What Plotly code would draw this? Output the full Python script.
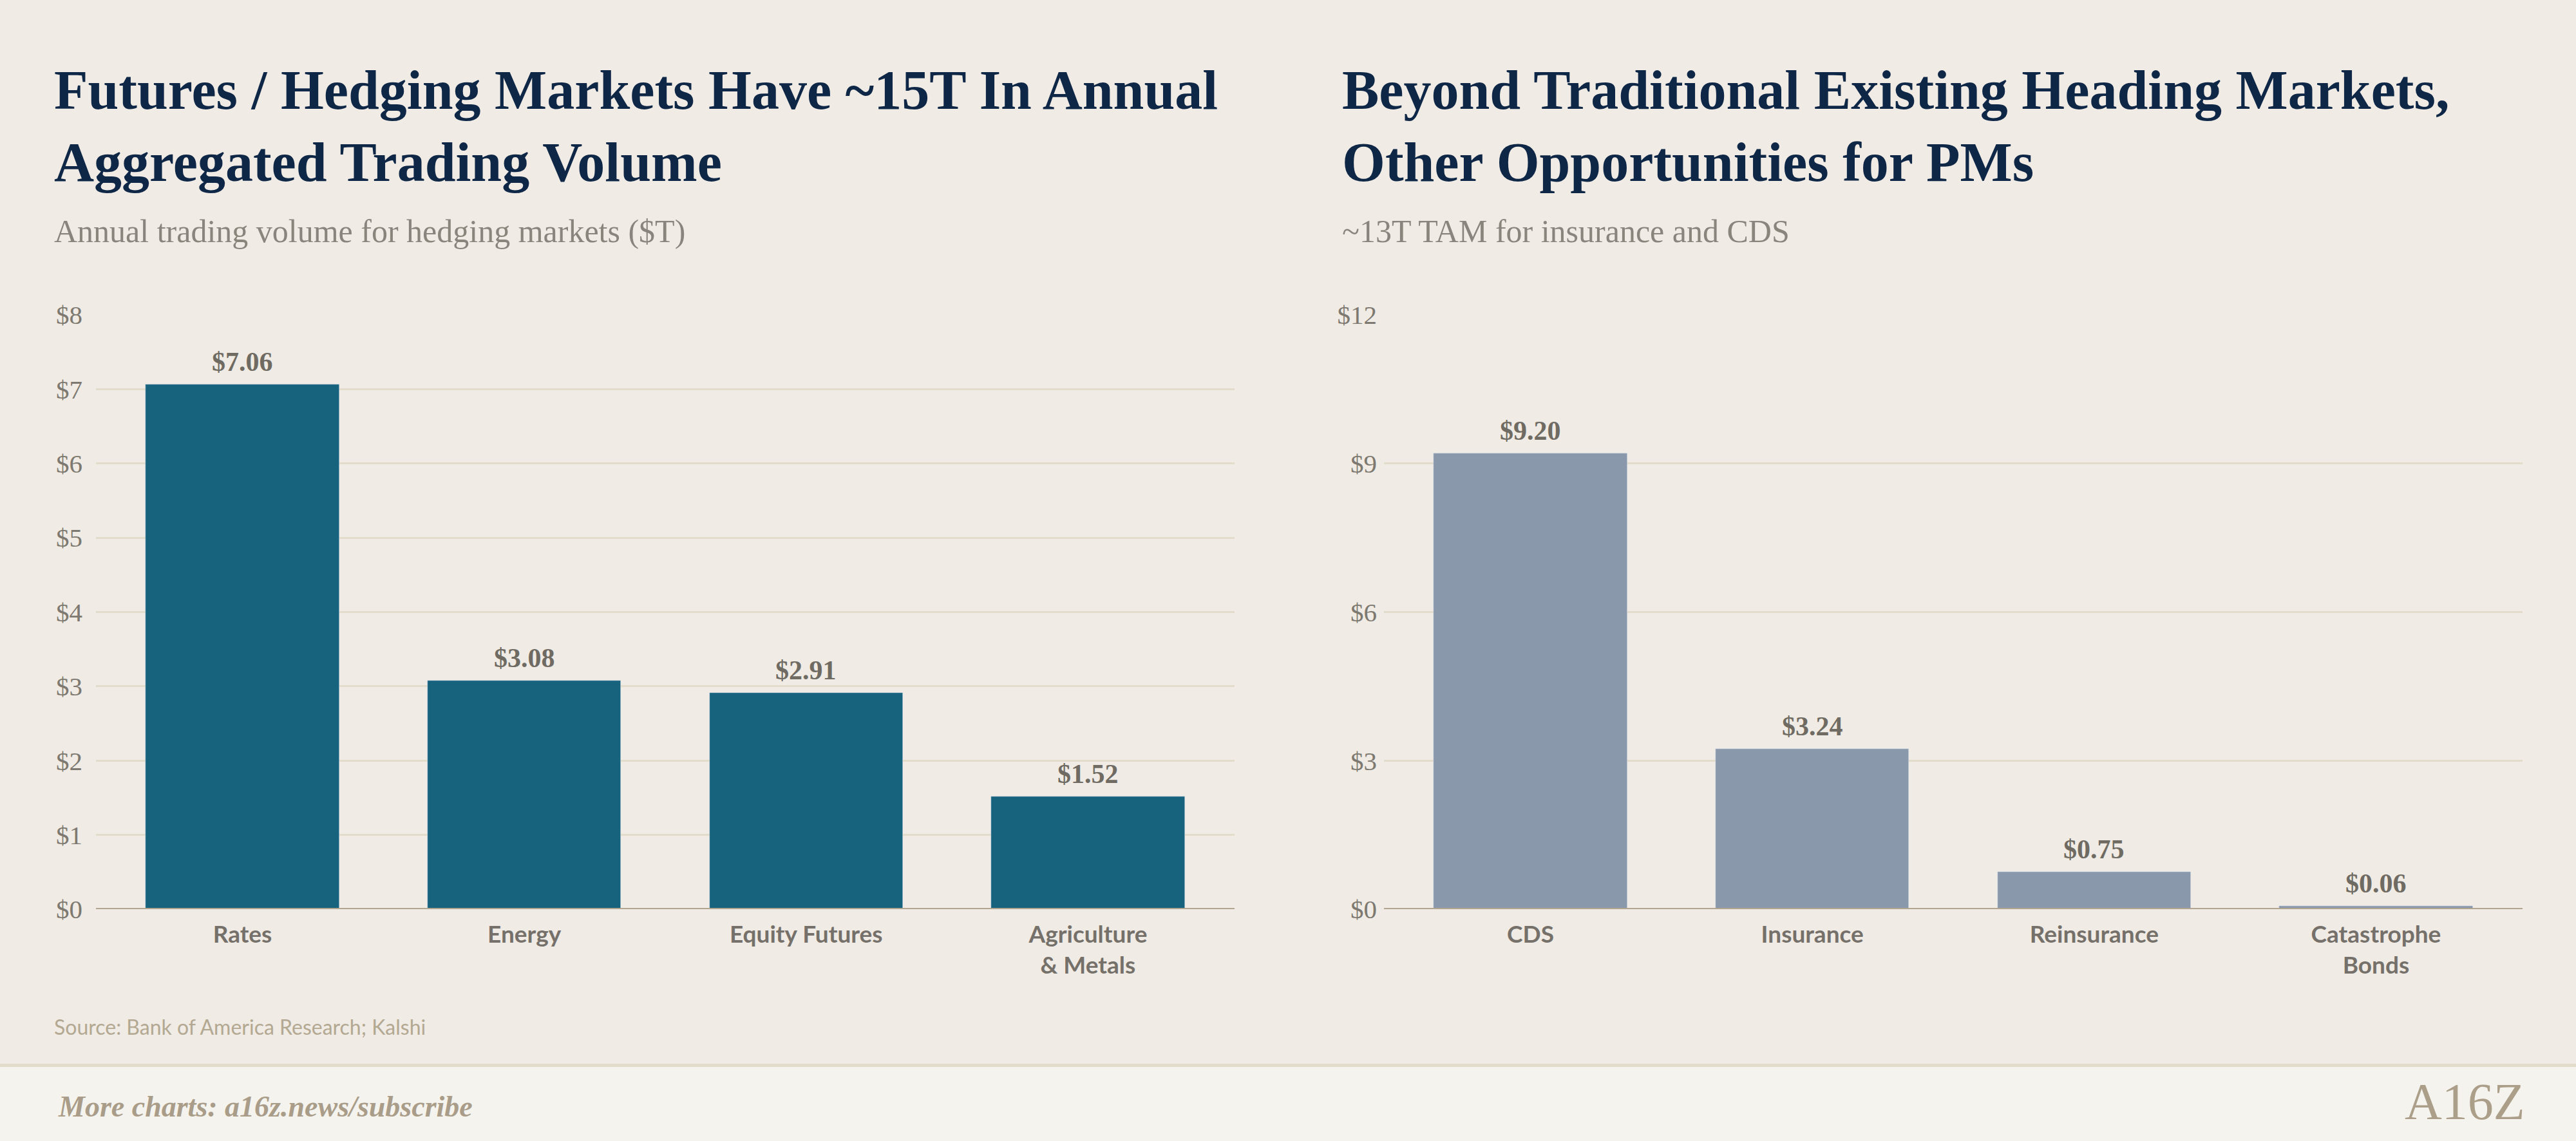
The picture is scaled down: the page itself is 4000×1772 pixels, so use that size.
import plotly.graph_objects as go

# ---------------- data ----------------
left_categories = ["Rates", "Energy", "Equity Futures", "Agriculture & Metals"]
left_tick_labels = ["Rates", "Energy", "Equity Futures", "Agriculture<br>& Metals"]
left_values = [7.06, 3.08, 2.91, 1.52]

right_categories = ["CDS", "Insurance", "Reinsurance", "Catastrophe Bonds"]
right_tick_labels = ["CDS", "Insurance", "Reinsurance", "Catastrophe<br>Bonds"]
right_values = [9.20, 3.24, 0.75, 0.06]

left_yticks = [0, 1, 2, 3, 4, 5, 6, 7, 8]
left_ytick_labels = ["$0", "$1", "$2", "$3", "$4", "$5", "$6", "$7", "$8"]
right_yticks = [0, 3, 6, 9, 12]
right_ytick_labels = ["$0", "$3", "$6", "$9", "$12"]

left_title = "Futures / Hedging Markets Have ~15T In Annual<br>Aggregated Trading Volume"
left_subtitle = "Annual trading volume for hedging markets ($T)"
right_title = "Beyond Traditional Existing Heading Markets,<br>Other Opportunities for PMs"
right_subtitle = "~13T TAM for insurance and CDS"
source_text = "Source: Bank of America Research; Kalshi"
footer_text = "More charts: a16z.news/subscribe"
logo_text = "A16Z"

# ---------------- style ----------------
W, H = 4000, 1772
BG = "#f0ebe4"
FOOT_BG = "#f5f3ee"
NAVY = "#0f2747"
BAR_L = "#17627c"
BAR_R = "#8a98ab"
GRID = "#e3dccb"
BASE = "#b3a690"
TICK = "#7d7970"
VAL = "#6f6b63"
CAT = "#75716a"
SUB = "#8a857c"
TAN = "#b3a892"
FOOT_TXT = "#a99d89"
SERIF = "Liberation Serif"
SANS = "Lato"


def px_x(p):
    return p / W


def px_y(p):
    return 1 - p / H


fig = go.Figure()

fig.add_trace(go.Bar(x=left_categories, y=left_values, marker_color=BAR_L,
                     width=0.686, xaxis="x", yaxis="y", hoverinfo="skip",
                     showlegend=False))
fig.add_trace(go.Bar(x=right_categories, y=right_values, marker_color=BAR_R,
                     width=0.686, xaxis="x2", yaxis="y2", hoverinfo="skip",
                     showlegend=False))

y_bottom = px_y(1412)
y_top = px_y(489)

common_x = dict(showgrid=False, zeroline=False, showline=False, ticks="",
                tickfont=dict(family=SANS, size=37, color=CAT, weight="bold"),
                range=[-0.52, 3.52], fixedrange=True, ticklabelstandoff=14,
                automargin=False)
common_y = dict(showgrid=True, gridcolor=GRID, gridwidth=3, zeroline=False,
                showline=False, ticks="",
                tickfont=dict(family=SERIF, size=41, color=TICK),
                fixedrange=True, automargin=False)

fig.update_layout(
    width=W, height=H,
    margin=dict(l=0, r=0, t=0, b=0, pad=0, autoexpand=False),
    paper_bgcolor=BG, plot_bgcolor=BG,
    bargap=0,
    xaxis=dict(domain=[px_x(149), px_x(1917)], anchor="y",
               tickvals=left_categories, ticktext=left_tick_labels, **common_x),
    yaxis=dict(domain=[y_bottom, y_top], anchor="x", range=[0, 8],
               tickvals=left_yticks, ticktext=left_ytick_labels,
               ticklabelstandoff=20, **common_y),
    xaxis2=dict(domain=[px_x(2149), px_x(3917)], anchor="y2",
                tickvals=right_categories, ticktext=right_tick_labels, **common_x),
    yaxis2=dict(domain=[y_bottom, y_top], anchor="x2", range=[0, 12],
                tickvals=right_yticks, ticktext=right_ytick_labels,
                ticklabelstandoff=10, **common_y),
)

shapes = []
# baselines
for xr, yr in (("x", "y"), ("x2", "y2")):
    shapes.append(dict(type="line", xref=f"{xr} domain", yref=yr, x0=0, x1=1,
                       y0=0, y1=0, line=dict(color=BASE, width=4), layer="above"))
# footer
shapes.append(dict(type="rect", xref="paper", yref="paper", x0=0, x1=1,
                   y0=0, y1=px_y(1652), fillcolor=FOOT_BG, line_width=0,
                   layer="below"))
shapes.append(dict(type="rect", xref="paper", yref="paper", x0=0, x1=1,
                   y0=px_y(1657), y1=px_y(1652), fillcolor="#e2dccb",
                   line_width=0, layer="below"))
fig.update_layout(shapes=shapes)

ann = []
# value labels
for cats, vals, xr, yr in ((left_categories, left_values, "x", "y"),
                           (right_categories, right_values, "x2", "y2")):
    for c, v in zip(cats, vals):
        ann.append(dict(x=c, y=v, xref=xr, yref=yr, text=f"${v:.2f}",
                        showarrow=False, yanchor="bottom", yshift=10,
                        font=dict(family=SERIF, size=42, color=VAL,
                                  weight="bold")))

# titles & subtitles
for x0, title, sub in ((82, left_title, left_subtitle),
                       (2082, right_title, right_subtitle)):
    ann.append(dict(x=px_x(x0), y=px_y(90), xref="paper", yref="paper",
                    xanchor="left", yanchor="top", align="left",
                    text=title, showarrow=False,
                    font=dict(family=SERIF, size=86, color=NAVY,
                              weight="bold")))
    ann.append(dict(x=px_x(x0), y=px_y(329), xref="paper", yref="paper",
                    xanchor="left", yanchor="top", align="left",
                    text=sub, showarrow=False,
                    font=dict(family=SERIF, size=50, color=SUB)))

# source
ann.append(dict(x=px_x(82), y=px_y(1573), xref="paper", yref="paper",
                xanchor="left", yanchor="top", text=source_text,
                showarrow=False, font=dict(family=SANS, size=32, color=TAN)))
# footer text
ann.append(dict(x=px_x(88), y=px_y(1718), xref="paper", yref="paper",
                xanchor="left", yanchor="middle", text=f"<i>{footer_text}</i>",
                showarrow=False,
                font=dict(family=SERIF, size=46, color=FOOT_TXT,
                          weight="bold")))
# logo
ann.append(dict(x=px_x(3923), y=px_y(1711), xref="paper", yref="paper",
                xanchor="right", yanchor="middle", text=logo_text,
                showarrow=False,
                font=dict(family="Liberation Sans Narrow", size=80,
                          color="#ab9f8a")))
fig.update_layout(annotations=ann)

post = (
    "document.body.style.margin='0';"
    "document.body.style.overflow='hidden';"
    "document.body.style.background='" + BG + "';"
)

fig.write_html(
    "out.html",
    config={"displayModeBar": False},
    post_script=post,
)
